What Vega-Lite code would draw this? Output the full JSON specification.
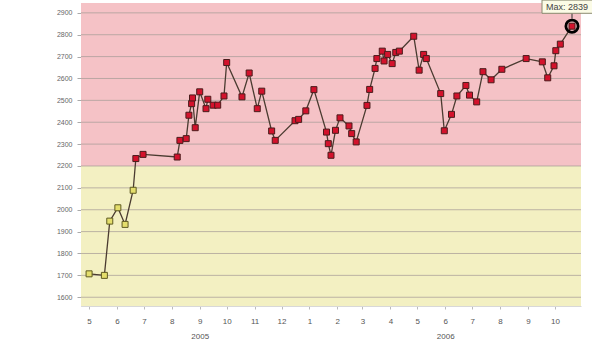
{
  "$schema": "https://vega.github.io/schema/vega-lite/v6.json",
  "width": 500,
  "height": 303,
  "autosize": {"type": "none"},
  "padding": {"left": 81, "top": 3, "right": 11, "bottom": 45},
  "background": "white",
  "config": {"view": {"stroke": null}, "font": "Liberation Sans"},
  "datasets": {
    "bands": [
      {"lo": 2200, "hi": 2945, "zone": "high"},
      {"lo": 1560, "hi": 2200, "zone": "low"}
    ],
    "grid": [
      {"v": 1600}, {"v": 1700}, {"v": 1800}, {"v": 1900}, {"v": 2000}, {"v": 2100}, {"v": 2200},
      {"v": 2300}, {"v": 2400}, {"v": 2500}, {"v": 2600}, {"v": 2700}, {"v": 2800}, {"v": 2900}
    ],
    "series": [
      {"date": "2005-05-01", "value": 1707},
      {"date": "2005-05-18", "value": 1700},
      {"date": "2005-05-24", "value": 1948},
      {"date": "2005-06-02", "value": 2009},
      {"date": "2005-06-10", "value": 1933},
      {"date": "2005-06-19", "value": 2089},
      {"date": "2005-06-22", "value": 2234},
      {"date": "2005-06-30", "value": 2253},
      {"date": "2005-08-07", "value": 2241},
      {"date": "2005-08-10", "value": 2317},
      {"date": "2005-08-17", "value": 2325},
      {"date": "2005-08-20", "value": 2432},
      {"date": "2005-08-23", "value": 2485},
      {"date": "2005-08-24", "value": 2511},
      {"date": "2005-08-27", "value": 2375},
      {"date": "2005-09-01", "value": 2539},
      {"date": "2005-09-08", "value": 2462},
      {"date": "2005-09-10", "value": 2505},
      {"date": "2005-09-16", "value": 2478},
      {"date": "2005-09-21", "value": 2478},
      {"date": "2005-09-28", "value": 2520},
      {"date": "2005-10-01", "value": 2673},
      {"date": "2005-10-18", "value": 2516},
      {"date": "2005-10-26", "value": 2625},
      {"date": "2005-11-04", "value": 2462},
      {"date": "2005-11-09", "value": 2542},
      {"date": "2005-11-20", "value": 2360},
      {"date": "2005-11-24", "value": 2317},
      {"date": "2005-12-16", "value": 2407},
      {"date": "2005-12-20", "value": 2413},
      {"date": "2005-12-28", "value": 2452},
      {"date": "2006-01-06", "value": 2549},
      {"date": "2006-01-20", "value": 2355},
      {"date": "2006-01-22", "value": 2302},
      {"date": "2006-01-25", "value": 2249},
      {"date": "2006-01-30", "value": 2363},
      {"date": "2006-02-04", "value": 2420},
      {"date": "2006-02-14", "value": 2383},
      {"date": "2006-02-17", "value": 2348},
      {"date": "2006-02-22", "value": 2310},
      {"date": "2006-03-06", "value": 2477},
      {"date": "2006-03-09", "value": 2550},
      {"date": "2006-03-15", "value": 2646},
      {"date": "2006-03-17", "value": 2691},
      {"date": "2006-03-23", "value": 2725},
      {"date": "2006-03-25", "value": 2680},
      {"date": "2006-03-29", "value": 2710},
      {"date": "2006-04-03", "value": 2668},
      {"date": "2006-04-07", "value": 2719},
      {"date": "2006-04-11", "value": 2725},
      {"date": "2006-04-27", "value": 2793},
      {"date": "2006-05-03", "value": 2638},
      {"date": "2006-05-08", "value": 2710},
      {"date": "2006-05-11", "value": 2691},
      {"date": "2006-05-27", "value": 2531},
      {"date": "2006-05-31", "value": 2361},
      {"date": "2006-06-08", "value": 2436},
      {"date": "2006-06-14", "value": 2520},
      {"date": "2006-06-24", "value": 2568},
      {"date": "2006-06-28", "value": 2524},
      {"date": "2006-07-06", "value": 2493},
      {"date": "2006-07-13", "value": 2631},
      {"date": "2006-07-22", "value": 2594},
      {"date": "2006-08-03", "value": 2642},
      {"date": "2006-08-30", "value": 2691},
      {"date": "2006-09-17", "value": 2676},
      {"date": "2006-09-23", "value": 2603},
      {"date": "2006-09-30", "value": 2658},
      {"date": "2006-10-02", "value": 2727},
      {"date": "2006-10-07", "value": 2757},
      {"date": "2006-10-20", "value": 2839}
    ],
    "maxpt": [{"date": "2006-10-20", "value": 2839, "label": "Max: 2839"}]
  },
  "encoding": {
    "y": {"type": "quantitative", "scale": {"domain": [1560, 2945], "nice": false, "zero": false},
      "axis": {"values": [1600, 1700, 1800, 1900, 2000, 2100, 2200, 2300, 2400, 2500, 2600, 2700, 2800, 2900],
        "format": "d", "labelOverlap": false,
        "title": null, "grid": false, "labelFontSize": 7, "labelColor": "#666", "tickSize": 4, "tickColor": "#aaa",
        "labelPadding": 5, "domainColor": "#c8c8c8"}}
  },
  "layer": [
    {
      "data": {"name": "bands"},
      "mark": {"type": "rect"},
      "encoding": {
        "y": {"field": "lo", "type": "quantitative"},
        "y2": {"field": "hi"},
        "color": {"field": "zone", "type": "nominal", "scale": {"domain": ["high", "low"], "range": ["#f5c2c6", "#f3f0c2"]}, "legend": null}
      }
    },
    {
      "data": {"name": "grid"},
      "mark": {"type": "rule", "color": "#a89e98", "strokeWidth": 1, "opacity": 0.75},
      "encoding": {"y": {"field": "v", "type": "quantitative"}}
    },
    {
      "data": {"name": "series"},
      "mark": {"type": "line", "color": "#4a3b30", "strokeWidth": 1.3},
      "encoding": {
        "x": {"field": "date", "type": "temporal",
          "scale": {"type": "utc", "domain": [{"year": 2005, "month": 4, "date": 22, "utc": true}, {"year": 2006, "month": 10, "date": 30, "utc": true}]},
          "axis": {"title": null, "grid": false, "tickCount": {"interval": "month", "step": 1},
            "labelExpr": "utcmonth(datum.value) == 8 && utcyear(datum.value) == 2005 ? ['9', '2005'] : (utcmonth(datum.value) == 5 && utcyear(datum.value) == 2006 ? ['6', '2006'] : utcFormat(datum.value, '%-m'))",
            "labelLineHeight": 15, "labelFontSize": 8, "labelColor": "#555", "tickSize": 3, "tickColor": "#bbb",
            "labelPadding": 8, "domainColor": "#d8d8d8", "labelFlush": false, "labelOverlap": false}},
        "y": {"field": "value", "type": "quantitative"}
      }
    },
    {
      "data": {"name": "series"},
      "mark": {"type": "point", "shape": "square", "filled": true, "size": 36, "strokeWidth": 1, "opacity": 1},
      "encoding": {
        "x": {"field": "date", "type": "temporal"},
        "y": {"field": "value", "type": "quantitative"},
        "fill": {"condition": {"test": "datum.value < 2200", "value": "#e4de6c"}, "value": "#d3122c"},
        "stroke": {"condition": {"test": "datum.value < 2200", "value": "#5e5a20"}, "value": "#4a1c1c"}
      }
    },
    {
      "data": {"name": "maxpt"},
      "mark": {"type": "point", "shape": "circle", "filled": false, "size": 150, "strokeWidth": 2.8, "color": "#000", "opacity": 1},
      "encoding": {
        "x": {"field": "date", "type": "temporal"},
        "y": {"field": "value", "type": "quantitative"}
      }
    },
    {
      "data": {"name": "maxpt"},
      "mark": {"type": "point", "shape": "M0,-1L0,1", "filled": false, "size": 49, "strokeWidth": 1, "color": "#333", "opacity": 1, "yOffset": -11},
      "encoding": {
        "x": {"field": "date", "type": "temporal"},
        "y": {"field": "value", "type": "quantitative"}
      }
    },
    {
      "data": {"name": "maxpt"},
      "mark": {"type": "point", "shape": "M-1,-0.22L1,-0.22L1,0.22L-1,0.22Z", "filled": true, "size": 3600, "fill": "#fbfbe6", "stroke": "#8a8a70", "strokeWidth": 1, "opacity": 1, "xOffset": 0, "yOffset": -19.5},
      "encoding": {
        "x": {"field": "date", "type": "temporal"},
        "y": {"field": "value", "type": "quantitative"}
      }
    },
    {
      "data": {"name": "maxpt"},
      "mark": {"type": "text", "align": "left", "baseline": "middle", "fontSize": 9, "color": "#444", "dx": -26, "dy": -19},
      "encoding": {
        "x": {"field": "date", "type": "temporal"},
        "y": {"field": "value", "type": "quantitative"},
        "text": {"field": "label"}
      }
    }
  ]
}
